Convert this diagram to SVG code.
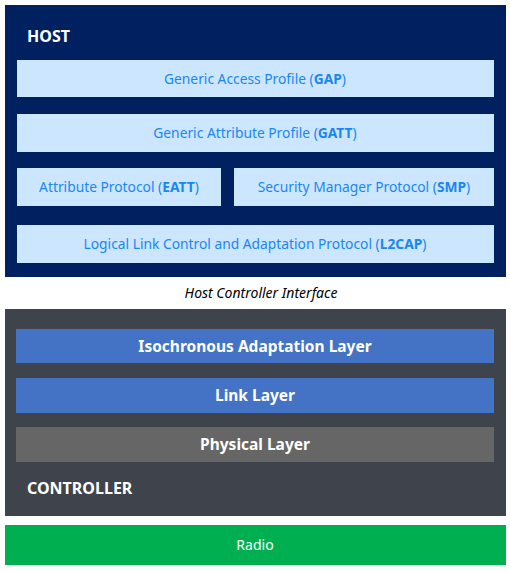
<svg xmlns="http://www.w3.org/2000/svg" width="510" height="572" viewBox="0 0 510 572">
<style>
.lt{fill:#CCE6FF}
.ht{font-family:"Noto Sans","Open Sans",sans-serif;font-size:13.8px;fill:#1A86F0;text-anchor:middle}
.ht tspan{font-weight:bold}
.lay{font-family:"Noto Sans","Open Sans",sans-serif;font-size:15.5px;font-weight:bold;fill:#FFFFFF;text-anchor:middle}
.big{font-family:"Noto Sans","Open Sans",sans-serif;font-size:16px;font-weight:bold;fill:#FFFFFF}
</style>
<rect x="0" y="0" width="510" height="572" fill="#FFFFFF"/>
<g id="host">
<rect x="5" y="5" width="501" height="272" fill="#002060"/>
<text class="big" x="27" y="42">HOST</text>
</g>
<g id="gap">
<rect class="lt" x="17" y="60" width="477" height="37"/>
<text class="ht" x="255" y="84">Generic Access Profile (<tspan>GAP</tspan>)</text>
</g>
<g id="gatt">
<rect class="lt" x="17" y="114" width="477" height="38"/>
<text class="ht" x="255" y="138">Generic Attribute Profile (<tspan>GATT</tspan>)</text>
</g>
<g id="eatt">
<rect class="lt" x="17" y="168" width="204" height="38"/>
<text class="ht" x="119" y="192">Attribute Protocol (<tspan>EATT</tspan>)</text>
</g>
<g id="smp">
<rect class="lt" x="234" y="168" width="260" height="38"/>
<text class="ht" x="364" y="192">Security Manager Protocol (<tspan>SMP</tspan>)</text>
</g>
<g id="l2cap">
<rect class="lt" x="17" y="225" width="477" height="38"/>
<text class="ht" x="255" y="249">Logical Link Control and Adaptation Protocol (<tspan>L2CAP</tspan>)</text>
</g>
<g id="hci">
<text x="261" y="298" font-family="Noto Sans,Open Sans,sans-serif" font-size="14" font-style="italic" fill="#000000" text-anchor="middle">Host Controller Interface</text>
</g>
<g id="controller">
<rect x="5" y="309" width="501" height="207" fill="#3F434B"/>
<text class="big" x="27" y="494">CONTROLLER</text>
</g>
<g id="isoal">
<rect x="16" y="329" width="478" height="34" fill="#4472C4"/>
<text class="lay" x="255" y="351.5">Isochronous Adaptation Layer</text>
</g>
<g id="ll">
<rect x="16" y="378" width="478" height="35" fill="#4472C4"/>
<text class="lay" x="255" y="400.5">Link Layer</text>
</g>
<g id="phy">
<rect x="16" y="427" width="478" height="35" fill="#666666"/>
<text class="lay" x="255" y="449.5">Physical Layer</text>
</g>
<g id="radio">
<rect x="5" y="525" width="501" height="40" fill="#00B050"/>
<text x="255" y="550" font-family="Noto Sans,Open Sans,sans-serif" font-size="14" fill="#FFFFFF" text-anchor="middle">Radio</text>
</g>
<g id="connectors"></g>
</svg>
